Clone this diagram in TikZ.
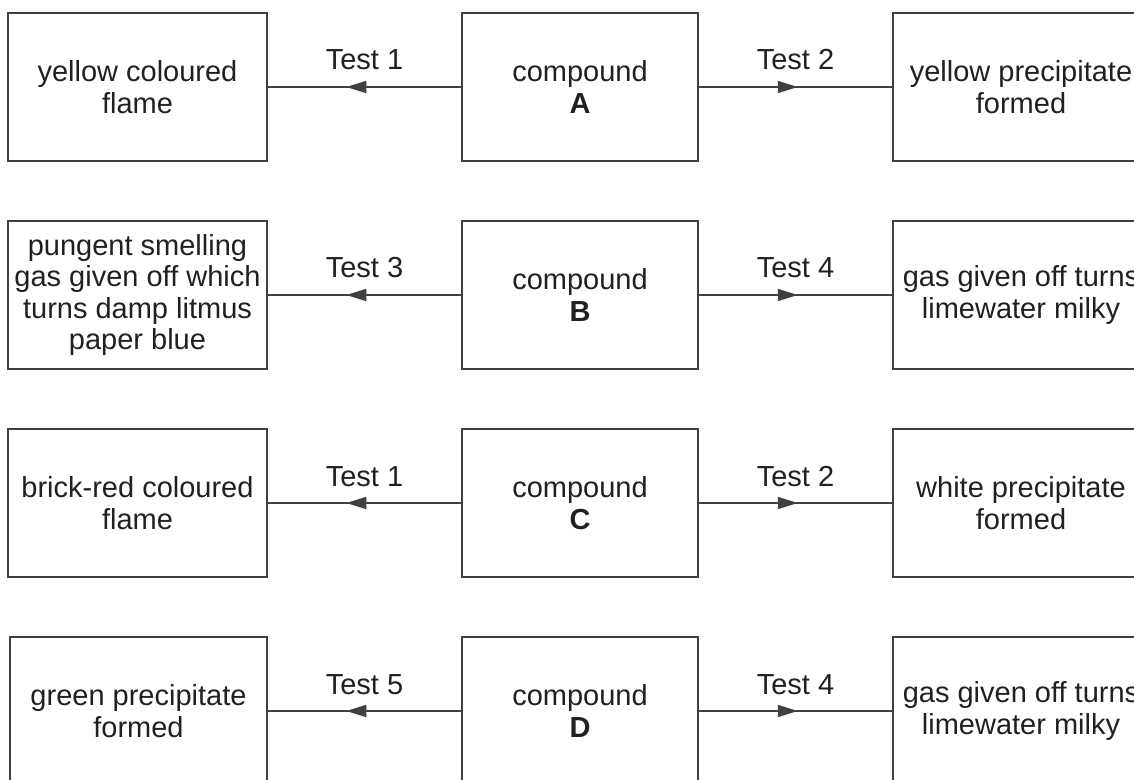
\documentclass[tikz,border=0pt]{standalone}
\usepackage{fontspec}
\setmainfont{Liberation Sans}
\usetikzlibrary{arrows.meta,decorations.markings,calc}
\definecolor{ink}{HTML}{231F20}
\definecolor{edgegray}{HTML}{404040}
\begin{document}
\begin{tikzpicture}[x=0.5pt,y=-0.5pt,
  box/.style={draw=edgegray, line width=0.75pt, inner sep=0pt, align=center, text=ink,
    font=\fontsize{14.5}{15.8}\selectfont, minimum height=74pt},
  lbox/.style={box, minimum width=129.5pt},
  mbox/.style={box, minimum width=118pt},
  rbox/.style={box, minimum width=128pt},
  conn/.style={draw=edgegray, line width=0.75pt},
  leftarr/.style={conn, postaction={decorate}, decoration={markings,
    mark=at position 57.5pt with {\arrow{Triangle[length=10pt,width=6pt]}}}},
  rightarr/.style={conn, postaction={decorate}, decoration={markings,
    mark=at position 49.5pt with {\arrow{Triangle[length=10pt,width=6pt]}}}},
  lab/.style={text=ink, font=\fontsize{14.5}{15.8}\selectfont, anchor=base, inner sep=0pt},
]
\useasboundingbox (0,0) rectangle (1134,780);
\clip (0,0) rectangle (1134,780);

% Row 1
\node[lbox] (L1) at (137.5,87) {yellow coloured\\flame};
\node[mbox] (M1) at (580,87) {compound\\\textbf{A}};
\node[rbox] (R1) at (1021,87) {yellow precipitate\\formed};
\draw[leftarr] (M1.west) -- (L1.east);
\draw[rightarr] (M1.east) -- (R1.west);
\node[lab] (T1a) at ($(L1.east)!0.5!(M1.west)+(0,-17)$) {Test 1};
\node[lab] (T1b) at ($(M1.east)!0.5!(R1.west)+(0,-17)$) {Test 2};

% Row 2
\node[lbox] (L2) at (137.5,295) {pungent smelling\\gas given off which\\turns damp litmus\\paper blue};
\node[mbox] (M2) at (580,295) {compound\\\textbf{B}};
\node[rbox] (R2) at (1021,295) {gas given off turns\\limewater milky};
\draw[leftarr] (M2.west) -- (L2.east);
\draw[rightarr] (M2.east) -- (R2.west);
\node[lab] (T2a) at ($(L2.east)!0.5!(M2.west)+(0,-17)$) {Test 3};
\node[lab] (T2b) at ($(M2.east)!0.5!(R2.west)+(0,-17)$) {Test 4};

% Row 3
\node[lbox] (L3) at (137.5,503) {brick-red coloured\\flame};
\node[mbox] (M3) at (580,503) {compound\\\textbf{C}};
\node[rbox] (R3) at (1021,503) {white precipitate\\formed};
\draw[leftarr] (M3.west) -- (L3.east);
\draw[rightarr] (M3.east) -- (R3.west);
\node[lab] (T3a) at ($(L3.east)!0.5!(M3.west)+(0,-17)$) {Test 1};
\node[lab] (T3b) at ($(M3.east)!0.5!(R3.west)+(0,-17)$) {Test 2};

% Row 4
\node[lbox, minimum width=128.5pt] (L4) at (138.5,711) {green precipitate\\formed};
\node[mbox] (M4) at (580,711) {compound\\\textbf{D}};
\node[rbox] (R4) at (1021,711) {gas given off turns\\limewater milky};
\draw[leftarr] (M4.west) -- (L4.east);
\draw[rightarr] (M4.east) -- (R4.west);
\node[lab] (T4a) at ($(L4.east)!0.5!(M4.west)+(0,-17)$) {Test 5};
\node[lab] (T4b) at ($(M4.east)!0.5!(R4.west)+(0,-17)$) {Test 4};
\end{tikzpicture}
\end{document}
